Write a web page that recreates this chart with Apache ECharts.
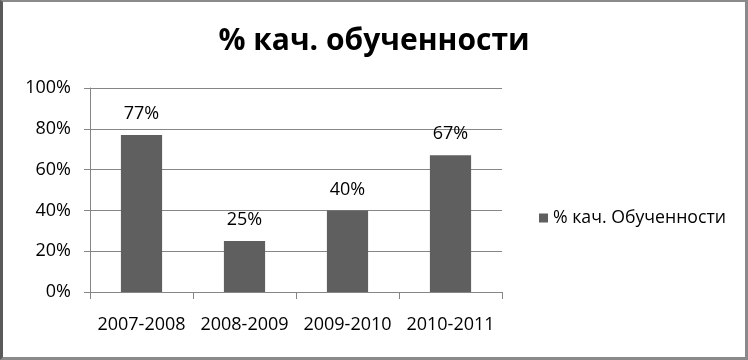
<!DOCTYPE html>
<html>
<head>
<meta charset="utf-8">
<script src="https://cdn.jsdelivr.net/npm/echarts@6/dist/echarts.min.js"></script>
<style>
html,body{margin:0;padding:0;background:#fff;}
#wrap{position:relative;width:748px;height:360px;}
#chart{position:absolute;left:0;top:0;width:748px;height:360px;}
#frame{position:absolute;left:0;top:0;width:748px;height:360px;box-sizing:border-box;border-top:2px solid #8a8a8a;border-right:3px solid #8a8a8a;border-bottom:3px solid #8a8a8a;border-left:3px solid #5a5a5a;pointer-events:none;}
</style>
</head>
<body>
<div id="wrap"><div id="chart"></div><div id="frame"></div></div>
<script>
const titleText = '% кач. обученности';
const seriesName = '% кач. Обученности';
const categories = ['2007-2008', '2008-2009', '2009-2010', '2010-2011'];
const values = [77, 25, 40, 67];
const yTicks = [0, 20, 40, 60, 80, 100];

const FONT = '"Open Sans", "Noto Sans", sans-serif';
const chart = echarts.init(document.getElementById('chart'), null, {renderer: 'canvas'});
chart.setOption({
  animation: false,
  backgroundColor: '#ffffff',
  title: {
    text: titleText,
    left: 'center',
    top: 21,
    textStyle: {fontFamily: FONT, fontWeight: 'bold', fontSize: 30, color: '#000'}
  },
  legend: {
    data: [seriesName],
    left: 534,
    top: 204,
    icon: 'rect',
    itemWidth: 9,
    itemHeight: 9,
    textStyle: {fontFamily: FONT, fontSize: 17.7, color: '#000'}
  },
  grid: {left: 90, right: 246, top: 88, bottom: 68, containLabel: false},
  xAxis: {
    type: 'category',
    data: categories,
    axisLine: {show: true, lineStyle: {color: '#868686', width: 1}},
    axisTick: {show: true, length: 7, alignWithLabel: false, lineStyle: {color: '#868686'}},
    axisLabel: {fontFamily: FONT, fontSize: 18, color: '#000', margin: 24, interval: 0},
    splitLine: {show: false}
  },
  yAxis: {
    type: 'value',
    min: yTicks[0],
    max: yTicks[yTicks.length - 1],
    interval: yTicks[1] - yTicks[0],
    axisLine: {show: true, lineStyle: {color: '#868686', width: 1}},
    axisTick: {show: true, length: 6, lineStyle: {color: '#868686'}},
    axisLabel: {fontFamily: FONT, fontSize: 18, color: '#000', margin: 19, formatter: v => v + '%'},
    splitLine: {show: true, lineStyle: {color: '#868686', width: 1}}
  },
  series: [{
    name: seriesName,
    type: 'bar',
    data: values,
    barWidth: '40%',
    itemStyle: {color: '#5f5f5f'},
    label: {
      show: true,
      position: 'top',
      distance: 12,
      formatter: p => p.value + '%',
      fontFamily: FONT,
      fontSize: 18,
      color: '#000'
    }
  }]
});
</script>
</body>
</html>
